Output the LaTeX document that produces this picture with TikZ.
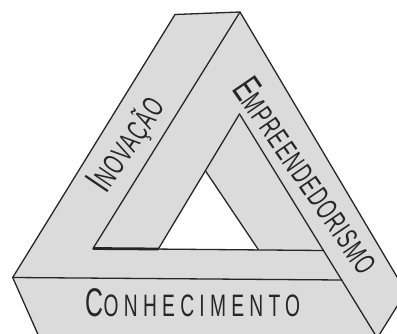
\documentclass[tikz,border=0pt]{standalone}
\usepackage{fontspec}
\usetikzlibrary{calc}
\newfontfamily\lblfont[FakeStretch=0.62,LetterSpace=17]{Liberation Sans}
\newfontfamily\lblfonttight[FakeStretch=0.62,LetterSpace=4]{Liberation Sans}
\newcommand{\firstcap}[1]{{\fontsize{40}{40}\selectfont #1}}
\begin{document}
\begin{tikzpicture}[x=1pt,y=-1pt,
  edge/.style={line width=1.3pt, draw=black!85, line cap=round, line join=round},
  thickedge/.style={line width=2.8pt, draw=black!85},
  face/.style={fill=black!14},
  hole/.style={fill=white},
  lbl/.style={font=\lblfont\fontsize{31}{31}\selectfont, text=black!85, inner sep=0pt, anchor=base},
  lbltight/.style={lbl, font=\lblfonttight\fontsize{30}{30}\selectfont}]
\useasboundingbox (0,0) rectangle (397,333);
\clip (0,0) rectangle (397,333);
% outer vertices
\coordinate (TL) at (175,14.5);
\coordinate (TA) at (240,12);
\coordinate (RV) at (406,292);
\coordinate (BR) at (369.75,350);
\coordinate (LV) at (12.7,277.5);
\coordinate (BL) at (44.9,350);
% inner vertices
\coordinate (IA) at (239.5,114);
\coordinate (IBL) at (93,248.5);
\coordinate (WL) at (158.3,249);
\coordinate (WA) at ($(IA)!0.42!(WL)$);
\coordinate (WR) at (258.3,249.5);
\coordinate (UR) at (323.5,250.5);
\coordinate (LR) at (342,280);
\coordinate (IR) at (384.7,350);
% faces
\path[face] (TL) -- (TA) -- (RV) -- (BR) -- (BL) -- (LV) -- cycle;
\path[hole] (WA) -- (WL) -- (WR) -- cycle;
% edges
\draw[edge] (TL) -- (TA) -- (RV) -- (BR);
\draw[edge] (TL) -- (LV) -- (BL);
\draw[edge] (LV) -- (LR);
\draw[edge] (TA) -- (IBL) -- (UR);
\draw[edge] (IA) -- (IR);
\draw[edge] (IA) -- (WL);
\draw[edge] (WA) -- (WR);
\draw[thickedge] (IBL) -- (WL);
% labels
\node[lbltight, rotate=56] (ino) at (136.4,150.8) {\firstcap{I}NOVAÇÃO};
\node[lbltight, rotate=-55.5] (emp) at (296,183) {\firstcap{E}MPREENDEDORISMO};
\node[lbl] (con) at (193,316) {\firstcap{C}ONHECIMENTO};
\end{tikzpicture}
\end{document}
